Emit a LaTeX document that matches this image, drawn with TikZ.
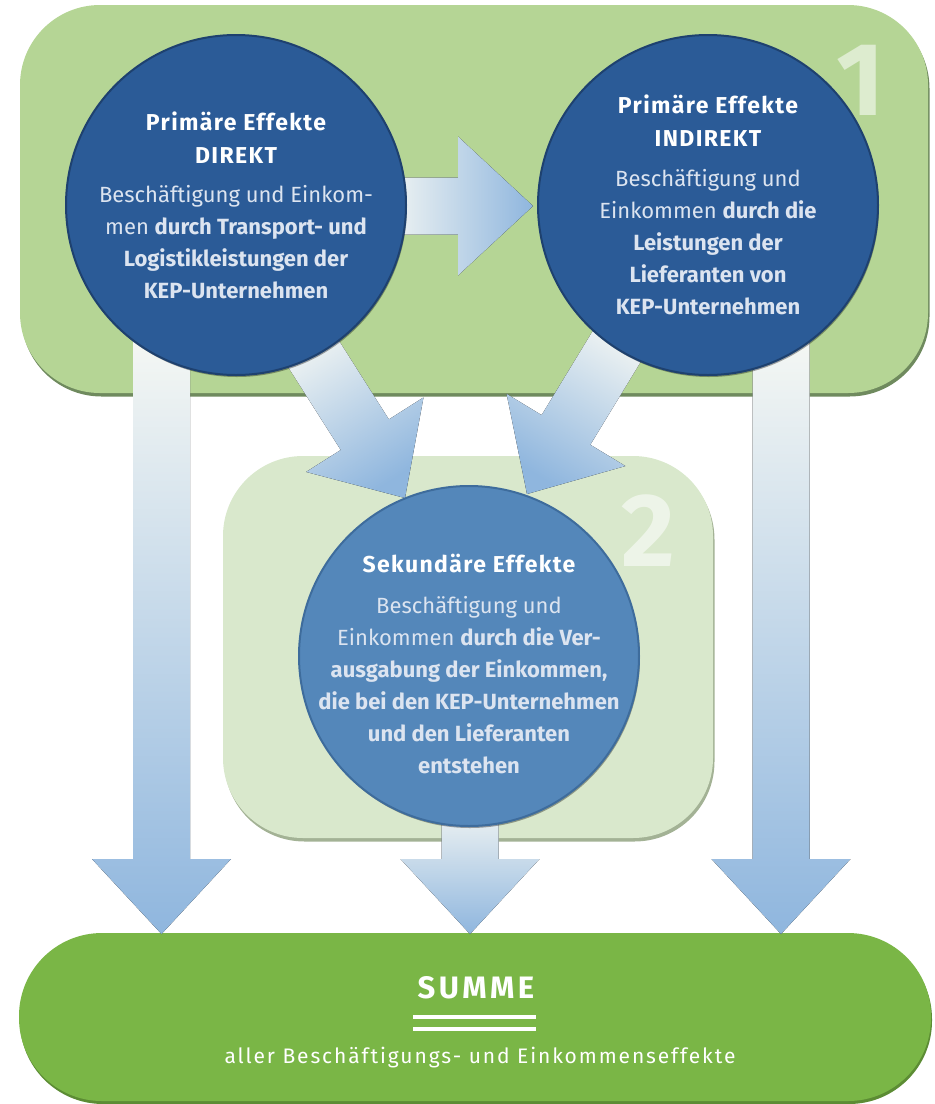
\documentclass[tikz,border=0pt]{standalone}
\usepackage{fontspec}
\setmainfont{Fira Sans}
\usetikzlibrary{shadows}
\definecolor{pone}{HTML}{B5D595}
\definecolor{ponesh}{HTML}{6F8A5E}
\definecolor{ptwo}{HTML}{D9E8CC}
\definecolor{ptwosh}{HTML}{A3B295}
\definecolor{psum}{HTML}{7AB646}
\definecolor{psumsh}{HTML}{5C8C34}
\definecolor{cdark}{HTML}{2B5B97}
\definecolor{cdarkrim}{HTML}{1E416F}
\definecolor{clight}{HTML}{5487BA}
\definecolor{clightrim}{HTML}{3E6C9C}
\definecolor{txt}{HTML}{DCE4F0}
\definecolor{arA}{HTML}{F6F8F4}
\definecolor{arB}{HTML}{D2DFF5}
\definecolor{arC}{HTML}{8FB6DE}
\newcommand\bigarrow[4]{%
  \begin{scope}[shift={(#1)},rotate=#2]
    \fill[top color=arA, middle color=arB, bottom color=arC, shading angle=#4]
      (0,0) -- (-75,-69.5) -- (-75,-28.5) -- (-#3,-28.5) -- (-#3,28.5) -- (-75,28.5) -- (-75,69.5) -- cycle;
  \end{scope}}
\newcommand\ttl[1]{\textcolor{white}{\fontsize{23}{32}\selectfont\bfseries\addfontfeature{LetterSpace=6}#1}}
\begin{document}
\begin{tikzpicture}[x=1pt,y=-1pt,
  panel/.style={rounded corners=80pt, inner sep=0pt},
  bigcirc/.style={circle, minimum size=340pt, inner sep=0pt, line width=2pt,
     drop shadow={shadow xshift=1pt, shadow yshift=-2pt, opacity=.35, fill=black}},
  ctext/.style={align=center, text=txt, font=\fontsize{22}{32}\selectfont},
  bignum/.style={text=white, text opacity=.55, font=\fontsize{104}{104}\selectfont\bfseries, inner sep=0pt}
]
\useasboundingbox (0,0) rectangle (935,1104);

% panels
\node[panel, fill=pone, minimum width=908pt, minimum height=388pt,
      drop shadow={shadow xshift=1.5pt, shadow yshift=-3.5pt, opacity=1, fill=ponesh}] (p1) at (474,199) {};
\node[panel, fill=ptwo, minimum width=490pt, minimum height=382pt,
      drop shadow={shadow xshift=1.5pt, shadow yshift=-3.5pt, opacity=1, fill=ptwosh}] (p2) at (468,647) {};
\node[panel, rounded corners=83pt, fill=psum, minimum width=912pt, minimum height=168pt,
      drop shadow={shadow xshift=1pt, shadow yshift=-3pt, opacity=1, fill=psumsh}] (ps) at (475,1017) {};

% arrows
\coordinate (th) at (533,206);
\coordinate (tdl) at (405,498);
\coordinate (tdr) at (527,494);
\coordinate (tvl) at (161.5,934);
\coordinate (tvm) at (470,934);
\coordinate (tvr) at (781,934);
\bigarrow{th}{0}{153}{90}
\bigarrow{tdl}{-57.6}{200}{32.4}
\bigarrow{tdr}{-121.3}{200}{-31.3}
\bigarrow{tvl}{-90}{604}{0}
\bigarrow{tvr}{-90}{604}{0}
\bigarrow{tvm}{-90}{134}{0}

% circles
\node[bigcirc, fill=cdark, draw=cdarkrim] (c1) at (236,205) {};
\node[bigcirc, fill=cdark, draw=cdarkrim] (c2) at (708,205) {};
\node[bigcirc, fill=clight, draw=clightrim] (c3) at (469,656) {};

% texts
\node[ctext] (t1) at (c1) {\ttl{Primäre Effekte}\\[1pt]
  \ttl{DIREKT}\\[7pt]
  Beschäftigung und Einkom-\\
  men \textbf{durch Transport- und}\\
  \textbf{Logistikleistungen der}\\
  \textbf{KEP-Unternehmen}};
\node[ctext] (t2) at (c2) {\ttl{Primäre Effekte}\\[1pt]
  \ttl{INDIREKT}\\[8pt]
  Beschäftigung und\\
  Einkommen \textbf{durch die}\\
  \textbf{Leistungen der}\\
  \textbf{Lieferanten von}\\
  \textbf{KEP-Unternehmen}};
\node[ctext] (t3) at (469,664) {\ttl{Sekundäre Effekte}\\[9pt]
  Beschäftigung und\\
  Einkommen \textbf{durch die Ver-}\\
  \textbf{ausgabung der Einkommen,}\\
  \textbf{die bei den KEP-Unternehmen}\\
  \textbf{und den Lieferanten}\\
  \textbf{entstehen}};

% numbers
\node[bignum] (n1) at (861,80) {1};
\node[bignum] (n2) at (648,531) {2};

% summe
\node[text=white, font=\fontsize{31}{31}\selectfont\bfseries\addfontfeature{LetterSpace=11}] (s1) at (476,988) {SUMME};
\coordinate (ul1) at (413,1017); \coordinate (ur1) at (536,1017);
\coordinate (ul2) at (413,1029); \coordinate (ur2) at (536,1029);
\draw[white, line width=3.5pt] (ul1) -- (ur1) (ul2) -- (ur2);
\node[text=white, font=\fontsize{21}{24}\selectfont\addfontfeature{LetterSpace=9}] (s2) at (480,1058) {aller Beschäftigungs- und Einkommenseffekte};
\end{tikzpicture}
\end{document}
